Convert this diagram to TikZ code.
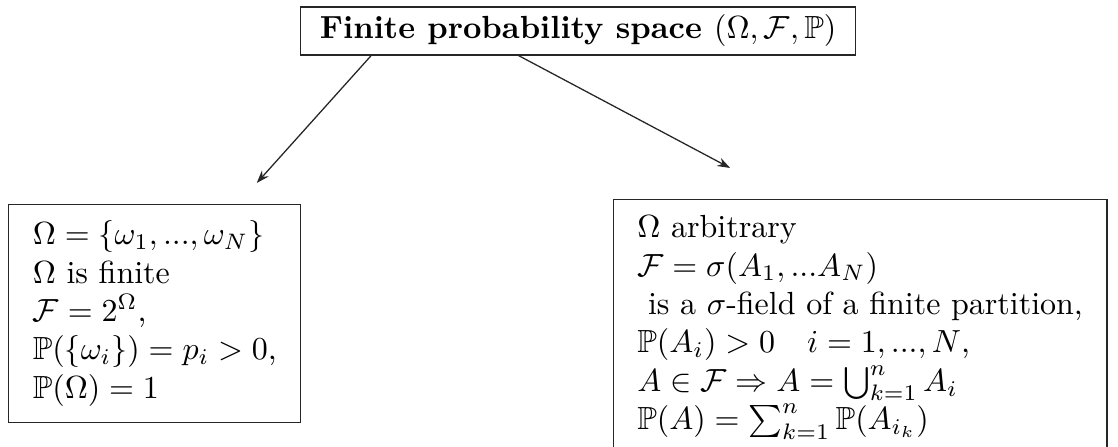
\documentclass[tikz,border=0pt]{standalone}
\usepackage{amssymb}
\usetikzlibrary{arrows.meta}

\begin{document}
\begin{tikzpicture}[
    head/.style={draw=black!85, inner xsep=6pt, inner ysep=2.5pt, font=\bfseries},
    case/.style={draw=black!85, align=left, inner xsep=7.5pt, inner ysep=5pt},
    arr/.style={-{Stealth[length=4pt, width=2.8pt]}, color=black!85},
]
\useasboundingbox (0,0) rectangle (12.28,-4.90);

\node[head] (space) at (6.35,-0.34) {Finite probability space $(\Omega,\mathcal{F},\mathbb{P})$};

\node[case, anchor=south west] (finite) at (0.09,-4.645) {$\Omega=\{\omega_1,...,\omega_N\}$\\
$\Omega$ is finite\\
$\mathcal{F}=2^{\Omega}$,\\
$\mathbb{P}(\{\omega_i\})=p_i>0$,\\
$\mathbb{P}(\Omega)=1$};

\node[case, anchor=north west] (general) at (6.73,-2.185) {$\Omega$ arbitrary\\
$\mathcal{F}=\sigma(A_1,...A_N)$\\
\ is a $\sigma$-field of a finite partition,\\
$\mathbb{P}(A_i)>0\quad i=1,...,N$,\\
$A\in\mathcal{F}\Rightarrow A=\bigcup_{k=1}^{n}A_i$\\
$\mathbb{P}(A)=\sum_{k=1}^{n}\mathbb{P}(A_{i_k})$};

\coordinate (tipfinite) at (2.82,-2.01);
\coordinate (tipgeneral) at (8.02,-1.845);

\draw[arr] ([xshift=0.78cm]space.south west) -- (tipfinite);
\draw[arr] ([xshift=2.40cm]space.south west) -- (tipgeneral);

\end{tikzpicture}
\end{document}
